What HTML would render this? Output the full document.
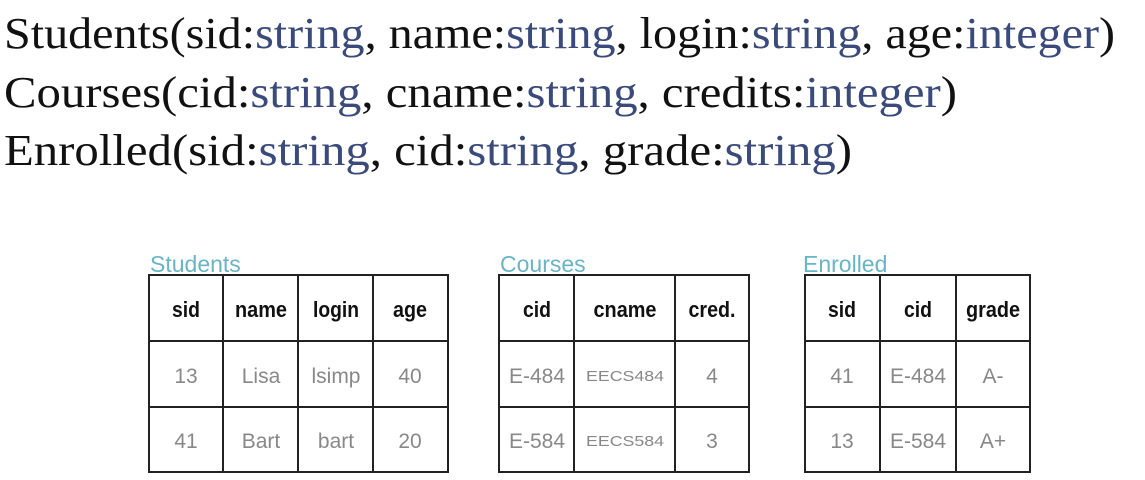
<!DOCTYPE html>
<html><head><meta charset="utf-8"><style>
html,body{margin:0;padding:0;background:#fff;width:1145px;height:480px;overflow:hidden}
</style></head><body>
<svg width="1145" height="480" xmlns="http://www.w3.org/2000/svg">
<g font-family="Liberation Serif, serif" font-size="44" fill="#111">
<text x="4" y="48" textLength="1111" lengthAdjust="spacingAndGlyphs">Students(sid:<tspan fill="#3a4a7a">string</tspan>, name:<tspan fill="#3a4a7a">string</tspan>, login:<tspan fill="#3a4a7a">string</tspan>, age:<tspan fill="#3a4a7a">integer</tspan>)</text>
<text x="4" y="107" textLength="953" lengthAdjust="spacingAndGlyphs">Courses(cid:<tspan fill="#3a4a7a">string</tspan>, cname:<tspan fill="#3a4a7a">string</tspan>, credits:<tspan fill="#3a4a7a">integer</tspan>)</text>
<text x="4" y="165" textLength="848" lengthAdjust="spacingAndGlyphs">Enrolled(sid:<tspan fill="#3a4a7a">string</tspan>, cid:<tspan fill="#3a4a7a">string</tspan>, grade:<tspan fill="#3a4a7a">string</tspan>)</text>
</g>
<g font-family="Liberation Sans, sans-serif" font-size="23" fill="#6ab4c4">
<text x="150" y="272">Students</text>
<text x="500" y="272">Courses</text>
<text x="803" y="272">Enrolled</text>
</g>
<g stroke="#222" stroke-width="2" fill="none">
<rect x="149" y="275" width="299" height="197"/>
<line x1="223" y1="275" x2="223" y2="472"/><line x1="298" y1="275" x2="298" y2="472"/><line x1="373" y1="275" x2="373" y2="472"/>
<line x1="149" y1="341" x2="448" y2="341"/><line x1="149" y1="407" x2="448" y2="407"/>
<rect x="499" y="275" width="250" height="197"/>
<line x1="574" y1="275" x2="574" y2="472"/><line x1="675" y1="275" x2="675" y2="472"/>
<line x1="499" y1="341" x2="749" y2="341"/><line x1="499" y1="407" x2="749" y2="407"/>
<rect x="805" y="275" width="225" height="197"/>
<line x1="880" y1="275" x2="880" y2="472"/><line x1="956" y1="275" x2="956" y2="472"/>
<line x1="805" y1="341" x2="1030" y2="341"/><line x1="805" y1="407" x2="1030" y2="407"/>
</g>
<g font-family="Liberation Sans Narrow, Liberation Sans, sans-serif" font-weight="bold" font-size="22" fill="#111" text-anchor="middle">
<text x="186" y="317" textLength="28" lengthAdjust="spacingAndGlyphs">sid</text><text x="261" y="317" textLength="52" lengthAdjust="spacingAndGlyphs">name</text><text x="336" y="317" textLength="46" lengthAdjust="spacingAndGlyphs">login</text><text x="410" y="317" textLength="34" lengthAdjust="spacingAndGlyphs">age</text>
<text x="537" y="317" textLength="28" lengthAdjust="spacingAndGlyphs">cid</text><text x="625" y="317" textLength="63" lengthAdjust="spacingAndGlyphs">cname</text><text x="712" y="317" textLength="47" lengthAdjust="spacingAndGlyphs">cred.</text>
<text x="842" y="317" textLength="28" lengthAdjust="spacingAndGlyphs">sid</text><text x="918" y="317" textLength="28" lengthAdjust="spacingAndGlyphs">cid</text><text x="993" y="317" textLength="54" lengthAdjust="spacingAndGlyphs">grade</text>
</g>
<g font-family="Liberation Sans, sans-serif" font-size="21" fill="#888" text-anchor="middle">
<text x="186" y="383">13</text><text x="261" y="383">Lisa</text><text x="336" y="383">lsimp</text><text x="410" y="383">40</text>
<text x="186" y="448">41</text><text x="261" y="448">Bart</text><text x="336" y="448">bart</text><text x="410" y="448">20</text>
<text x="537" y="383">E-484</text><text x="712" y="383">4</text>
<text x="537" y="448">E-584</text><text x="712" y="448">3</text>
<text x="842" y="383">41</text><text x="918" y="383">E-484</text><text x="993" y="383">A-</text>
<text x="842" y="448">13</text><text x="918" y="448">E-584</text><text x="993" y="448">A+</text>
<text x="625" y="381" font-size="15" textLength="78" lengthAdjust="spacingAndGlyphs">EECS484</text><text x="625" y="446" font-size="15" textLength="78" lengthAdjust="spacingAndGlyphs">EECS584</text>
</g>
</svg>
</body></html>
